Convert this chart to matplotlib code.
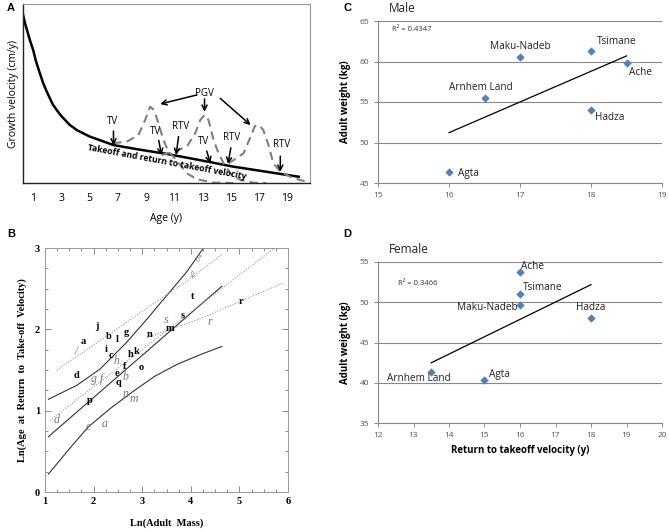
import matplotlib
matplotlib.use("Agg")
import matplotlib.pyplot as plt
import numpy as np

# ---------------- Panel A data (schematic growth velocity) ----------------
solid_x = [0.31, 0.45, 0.6, 0.8, 1.02, 1.2, 1.4, 1.73, 2.0, 2.4, 2.68, 3.0, 3.3, 3.6, 4.1, 5.0, 6.7, 8.5, 10.5, 12.8, 15.2, 17.5, 19.8]
solid_y = [93.8, 89.0, 85.0, 79.5, 74.3, 68.5, 63.5, 55.7, 50.7, 44.0, 40.8, 37.5, 35.0, 32.5, 29.6, 26.0, 21.2, 18.7, 16.2, 12.8, 9.1, 6.3, 3.5]

dash1_x = [6.68, 7.64, 8.46, 8.94, 9.29, 9.57, 9.88, 10.23, 10.59, 10.94, 11.42, 11.89, 12.6, 13.78, 15.2]
dash1_y = [22.2, 23.1, 26.8, 35.2, 42.6, 40.8, 33.4, 24.0, 17.5, 14.7, 10.1, 5.4, 2.1, 0.2, 0.0]
dash2_x = [10.12, 10.94, 11.89, 12.48, 12.84, 13.14, 13.42, 13.78, 14.13, 14.49, 14.96, 15.67, 16.6, 17.5]
dash2_y = [15.6, 17.5, 20.3, 27.8, 35.2, 38.0, 35.2, 24.0, 16.6, 11.0, 5.4, 1.7, 0.2, 0.0]
dash3_x = [14.84, 15.2, 15.9, 16.4, 16.7, 16.97, 17.3, 17.7, 18.0, 18.5, 19.2, 19.9, 20.6]
dash3_y = [11.0, 12.8, 16.6, 25.9, 31.8, 32.4, 29.6, 20.3, 11.0, 6.3, 3.5, 1.7, 0.2]
ageticks = [1, 3, 5, 7, 9, 11, 13, 15, 17, 19]

# ---------------- Panel B data ----------------
bold_lbl = ['j', 'a', 'b', 'l', 'g', 'n', 'i', 'c', 'h', 'k', 'd', 'e', 'f', 'o', 'q', 'p', 's', 't', 'm', 'r']
bold_x = [2.07, 1.79, 2.31, 2.48, 2.67, 3.15, 2.25, 2.35, 2.77, 2.89, 1.65, 2.49, 2.63, 2.98, 2.51, 1.93, 3.84, 4.04, 3.58, 5.04]
bold_y = [2.03, 1.85, 1.91, 1.87, 1.96, 1.94, 1.75, 1.68, 1.69, 1.73, 1.43, 1.46, 1.54, 1.53, 1.35, 1.12, 2.17, 2.40, 2.01, 2.34]
ital_lbl = ['/', 'h', 'g f', 'b', 'd', 'e', 'a', 'n', 'm', 's', 'r', '\u2642', '\u2640']
ital_x = [1.64, 2.48, 2.07, 2.66, 1.23, 1.89, 2.22, 2.65, 2.83, 3.50, 4.39, 4.17, 4.03]
ital_y = [1.73, 1.61, 1.39, 1.41, 0.89, 0.80, 0.84, 1.21, 1.14, 2.12, 2.09, 2.85, 2.65]
up_sol_x = [1.07, 1.65, 2.13, 2.68, 3.09, 3.30, 3.92, 4.26]
up_sol_y = [1.14, 1.31, 1.51, 1.84, 2.12, 2.27, 2.71, 3.00]
mid_sol_x = [1.07, 4.64]
mid_sol_y = [0.68, 2.53]
lo_sol_x = [1.07, 1.5, 1.89, 2.35, 2.82, 3.25, 3.72, 4.2, 4.64]
lo_sol_y = [0.22, 0.53, 0.80, 1.03, 1.24, 1.42, 1.57, 1.69, 1.79]
up_dot_x = [1.24, 2.13, 3.0, 4.0, 4.64]
up_dot_y = [1.50, 1.86, 2.22, 2.63, 2.92]
mid_dot_x = [1.10, 5.70]
mid_dot_y = [0.88, 2.99]
lo_dot_x = [3.10, 4.19, 5.90]
lo_dot_y = [1.90, 2.13, 2.57]

# ---------------- Panels C / D data ----------------
male_groups = ['Agta', 'Arnhem Land', 'Maku-Nadeb', 'Tsimane', 'Ache', 'Hadza']
male_rtv = [16, 16.5, 17, 18, 18.5, 18]
male_wt = [46.4, 55.5, 60.6, 61.3, 59.8, 54.0]
fem_groups = ['Arnhem Land', 'Agta', 'Ache', 'Tsimane', 'Maku-Nadeb', 'Hadza']
fem_rtv = [13.5, 15, 16, 16, 16, 18]
fem_wt = [41.3, 40.3, 53.7, 51.0, 49.7, 48.0]

W, H = 669, 532
fig = plt.figure(figsize=(W / 100, H / 100), dpi=100)
sans = ['Open Sans', 'DejaVu Sans']
serif = ['Liberation Serif', 'DejaVu Serif']

def fx(px):
    return px / W

def fy(py):
    return 1 - py / H

# ======================= Panel A =======================
axA = fig.add_axes([fx(23), fy(183), fx(310 - 23), (183 - 4) / H])
axA.plot(solid_x, solid_y, color='black', lw=1.8, solid_joinstyle='round')
for xs, ys in [(dash1_x, dash1_y), (dash2_x, dash2_y), (dash3_x, dash3_y)]:
    axA.plot(xs, ys, color='#808080', lw=1.5, ls=(0, (4, 2.5)))
axA.set_xlim(0.3, 20.6)
axA.set_ylim(0, 100)
axA.set_xticks(ageticks)
axA.set_xticklabels([str(t) for t in ageticks], family=sans, fontsize=7.5)
axA.tick_params(axis='x', length=0, pad=7)
axA.set_yticks([])
axA.set_xlabel('Age (y)', family=sans, fontsize=7.5, labelpad=7)
axA.set_ylabel('Growth velocity (cm/y)', family=sans, fontsize=7.5, labelpad=3)
for s in ['left', 'bottom']:
    axA.spines[s].set_color('#222222')
    axA.spines[s].set_linewidth(1.0)
for s in ['top', 'right']:
    axA.spines[s].set_color('#999999')
    axA.spines[s].set_linewidth(0.8)

ak = dict(arrowstyle='->', lw=1.1, color='black', shrinkA=0, shrinkB=0, mutation_scale=9)
axA.text(13.14, 50.1, 'PGV', ha='center', va='center', family=sans, fontsize=7)
axA.annotate('', xy=(10.0, 44.1), xytext=(12.6, 49.2), arrowprops=ak)
axA.annotate('', xy=(13.14, 39.8), xytext=(13.14, 47.0), arrowprops=ak)
axA.annotate('', xy=(16.4, 32.4), xytext=(14.25, 47.3), arrowprops=ak)
arrow_txt = ['TV', 'TV', 'RTV', 'TV', 'RTV', 'RTV']
arrow_tx = [6.65, 9.65, 11.42, 13.1, 15.03, 18.6]
arrow_ty = [31.1, 25.9, 28.3, 20.3, 22.5, 18.4]
arrow_sx = [6.7, 9.9, 11.3, 13.3, 15.0, 18.5]
arrow_sy = [29.0, 23.8, 25.9, 17.8, 19.6, 15.0]
arrow_hx = [6.7, 10.1, 11.13, 13.55, 14.8, 18.5]
arrow_hy = [21.0, 15.6, 15.6, 11.0, 10.6, 6.3]
for t, tx, ty, sx, sy, hx, hy in zip(arrow_txt, arrow_tx, arrow_ty, arrow_sx, arrow_sy, arrow_hx, arrow_hy):
    axA.text(tx, ty, t, ha='center', va='bottom', family=sans, fontsize=7)
    axA.annotate('', xy=(hx, hy), xytext=(sx, sy), arrowprops=ak)
axA.text(10.5, 11.6, 'Takeoff and return to takeoff velocity', ha='center', va='center',
         rotation=-10.5, rotation_mode='anchor', family=sans, fontsize=6.2, fontweight='bold')
fig.text(fx(7), fy(8), 'A', family=['Liberation Sans'], fontsize=8, fontweight='bold', va='center')

# ======================= Panel B =======================
axB = fig.add_axes([fx(45), fy(492), fx(288 - 45), (492 - 248) / H])
axB.plot(up_sol_x, up_sol_y, color='#333333', lw=0.8)
axB.plot(mid_sol_x, mid_sol_y, color='#333333', lw=0.8)
axB.plot(lo_sol_x, lo_sol_y, color='#333333', lw=0.8)
for xs, ys in [(up_dot_x, up_dot_y), (mid_dot_x, mid_dot_y), (lo_dot_x, lo_dot_y)]:
    axB.plot(xs, ys, color='#999999', lw=0.8, ls=(0, (1, 1.5)))
for t, x, y in zip(bold_lbl, bold_x, bold_y):
    axB.text(x, y, t, ha='center', va='center', family=serif, fontsize=7.5, fontweight='bold')
for t, x, y in zip(ital_lbl, ital_x, ital_y):
    fs = 9 if t in ('\u2642', '\u2640') else 8.5
    axB.text(x, y, t, ha='center', va='center', family=serif, fontsize=fs, style='italic', color='#777777')
axB.set_xlim(1, 6)
axB.set_ylim(0, 3)
axB.set_xticks([1, 2, 3, 4, 5, 6])
axB.set_yticks([0, 1, 2, 3])
axB.set_xticks(np.arange(1, 6.01, 0.25), minor=True)
axB.set_yticks(np.arange(0, 3.01, 0.25), minor=True)
axB.tick_params(which='both', direction='in', top=True, right=True, color='#777777', width=0.6)
axB.tick_params(which='major', length=4)
axB.tick_params(which='minor', length=2)
for lab in axB.get_xticklabels() + axB.get_yticklabels():
    lab.set_family(serif)
    lab.set_fontweight('bold')
    lab.set_fontsize(7.5)
for s in axB.spines.values():
    s.set_color('#999999')
    s.set_linewidth(0.7)
axB.set_xlabel('Ln(Adult  Mass)', family=serif, fontsize=7.5, fontweight='bold', labelpad=9)
axB.set_ylabel('Ln(Age  at  Return  to  Take-off  Velocity)', family=serif, fontsize=7.5,
               fontweight='bold', labelpad=6)
fig.text(fx(7), fy(234), 'B', family=['Liberation Sans'], fontsize=8, fontweight='bold', va='center')

# ======================= Panels C & D =======================
def scatter_panel(ax, xs, ys, names, offsets, xlim, ylim, r2, r2pos, title, ty):
    ax.scatter(xs, ys, marker='D', s=18, color='#4F81BD', zorder=3, linewidths=0)
    coef = np.polyfit(xs, ys, 1)
    xl = np.array([min(xs), max(xs)])
    ax.plot(xl, np.polyval(coef, xl), color='black', lw=0.9, zorder=2)
    for n, x, y, (dx, dy, ha) in zip(names, xs, ys, offsets):
        ax.text(x + dx, y + dy, n, ha=ha, va='center', family=sans, fontsize=7.2, color='#222222')
    ax.set_xlim(*xlim)
    ax.set_ylim(*ylim)
    ax.set_yticks(np.arange(ylim[0], ylim[1] + 0.1, 5))
    ax.set_xticks(np.arange(xlim[0], xlim[1] + 0.1, 1))
    ax.grid(axis='y', color='#888888', lw=0.8)
    ax.set_axisbelow(True)
    for s in ['top', 'right']:
        ax.spines[s].set_visible(False)
    for s in ['left', 'bottom']:
        ax.spines[s].set_color('#888888')
        ax.spines[s].set_linewidth(0.8)
    ax.tick_params(colors='#888888', labelcolor='#555555', labelsize=6, length=3, width=0.7)
    for lab in ax.get_xticklabels() + ax.get_yticklabels():
        lab.set_family(sans)
    ax.text(r2pos[0], r2pos[1], r2, family=sans, fontsize=5.5, color='#333333', va='center')
    ax.set_ylabel('Adult weight (kg)', family=sans, fontsize=7, fontweight='bold', labelpad=6)
    ax.text(0.04, ty, title, transform=ax.transAxes, family=sans, fontsize=8.5, va='center', color='#222222')

axC = fig.add_axes([fx(378), fy(183), fx(662 - 378), (183 - 21) / H])
male_off = [(0.12, -0.2, 'left'), (-0.05, 1.25, 'center'), (0.0, 1.25, 'center'),
            (0.08, 1.15, 'left'), (0.04, -1.1, 'left'), (0.05, -0.95, 'left')]
scatter_panel(axC, male_rtv, male_wt, male_groups, male_off, (15, 19), (45, 65),
              'R\u00b2 = 0.4347', (15.2, 64.0), 'Male', 1.08)
fig.text(fx(343), fy(8), 'C', family=['Liberation Sans'], fontsize=8, fontweight='bold', va='center')

axD = fig.add_axes([fx(378), fy(423), fx(662 - 378), (423 - 262) / H])
fem_off = [(-0.35, -0.75, 'center'), (0.12, 0.7, 'left'), (0.04, 0.75, 'left'),
           (0.08, 0.8, 'left'), (-0.07, -0.35, 'right'), (0.0, 1.3, 'center')]
scatter_panel(axD, fem_rtv, fem_wt, fem_groups, fem_off, (12, 20), (35, 55),
              'R\u00b2 = 0.3466', (12.55, 52.3), 'Female', 1.075)
axD.set_xlabel('Return to takeoff velocity (y)', family=sans, fontsize=7, fontweight='bold', labelpad=4)
fig.text(fx(343), fy(234), 'D', family=['Liberation Sans'], fontsize=8, fontweight='bold', va='center')

fig.savefig('out.png', dpi=100)
